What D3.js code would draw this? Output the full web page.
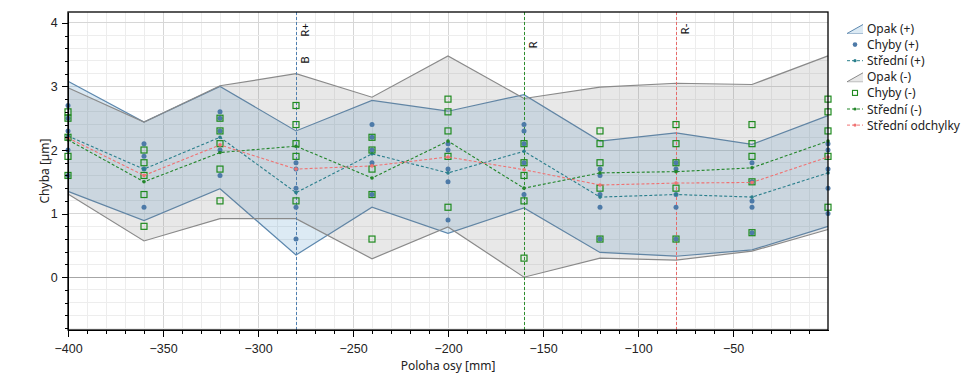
<!DOCTYPE html>
<meta charset="utf-8">
<style>

body { margin: 0; background: #fff; }

svg { font-family: "Segoe UI", "Noto Sans", "DejaVu Sans", sans-serif; }

.axis path,
.axis line {
  fill: none;
  stroke: #000;
  shape-rendering: crispEdges;
}

.axis text { font-size: 12.5px; fill: #222; }

.grid line { shape-rendering: crispEdges; }

</style>
<body>

<script src="https://cdn.jsdelivr.net/npm/d3@7"></script>

<script>

// poloha osy [mm]
var positions = [-400, -360, -320, -280, -240, -200, -160, -120, -80, -40, 0];

// opakovatelnost (+) / (-) : horni a dolni mez
var opakPlusHi  = [3.08, 2.44, 3.00, 2.30, 2.78, 2.61, 2.87, 2.14, 2.27, 2.09, 2.54];
var opakPlusLo  = [1.35, 0.89, 1.39, 0.35, 1.10, 0.69, 1.09, 0.39, 0.33, 0.43, 0.80];
var opakMinusHi = [2.98, 2.44, 3.01, 3.20, 2.83, 3.48, 2.81, 2.99, 3.05, 3.03, 3.48];
var opakMinusLo = [1.31, 0.57, 0.92, 0.92, 0.29, 0.79, 0.00, 0.30, 0.27, 0.41, 0.75];

// namerene chyby, jedno pole na kazdou polohu
var chybyPlus = [
  [2.7, 2.5, 2.3, 2.2, 2.0, 1.6],
  [2.1, 1.9, 1.7, 1.1],
  [2.6, 2.5, 2.3, 2.0, 1.6],
  [1.8, 1.7, 1.4, 1.1, 0.6],
  [2.4, 2.2, 2.0, 1.8, 1.3],
  [2.1, 2.0, 1.7, 1.5, 0.9],
  [2.4, 2.3, 2.1, 1.8, 1.3],
  [1.7, 1.6, 1.3, 1.1, 0.6],
  [1.8, 1.7, 1.3, 1.1, 0.6],
  [1.8, 1.5, 1.2, 1.1, 0.7],
  [2.1, 2.0, 1.7, 1.4, 1.0]
];
var chybyMinus = [
  [2.6, 2.5, 2.2, 1.9, 1.6],
  [2.0, 1.8, 1.6, 1.3, 0.8],
  [2.5, 2.3, 2.1, 1.7, 1.2],
  [2.7, 2.4, 2.1, 1.9, 1.2],
  [2.2, 2.0, 1.7, 1.3, 0.6],
  [2.8, 2.6, 2.3, 1.9, 1.1],
  [2.1, 1.8, 1.6, 1.2, 0.3],
  [2.3, 2.1, 1.8, 1.4, 0.6],
  [2.4, 2.1, 1.8, 1.4, 0.6],
  [2.4, 2.1, 1.9, 1.5, 0.7],
  [2.8, 2.6, 2.3, 1.9, 1.1]
];

var stredniPlus  = [2.22, 1.70, 2.20, 1.33, 1.94, 1.64, 1.98, 1.26, 1.30, 1.26, 1.64];
var stredniMinus = [2.16, 1.50, 1.96, 2.06, 1.56, 2.14, 1.40, 1.64, 1.66, 1.72, 2.14];
var stredniOdch  = [2.19, 1.60, 2.08, 1.70, 1.75, 1.89, 1.69, 1.45, 1.48, 1.49, 1.89];

var markerPos    = [-280, -280, -160, -80];
var markerLabels = ["R+", "B", "R", "R-"];

var xTickValues = [-400, -350, -300, -250, -200, -150, -100, -50];
var yTickValues = [0, 1, 2, 3, 4];

var legendLabels = ["Opak (+)", "Chyby (+)", "Střední (+)", "Opak (-)", "Chyby (-)", "Střední (-)", "Střední odchylky"];

// styles
var blueLine = "#5d88ae", blueFill = "rgba(80,150,200,0.2)";
var grayLine = "#8a8a8a", grayFill = "rgba(120,120,120,0.17)";
var dotColor = "#4d7aa8", sqColor = "#1f8a1f";
var tealColor = "#2b7f8c", greenColor = "#23862a", redColor = "#f07272";
var markerColors = ["#4f7fb0", "#4f7fb0", "#2d8f2d", "#e86a6a"];
var labelY = [30, 60, 45, 29];

var width = 979, height = 385;
var margin = {top: 12, right: 151, bottom: 55, left: 68};

var x = d3.scaleLinear().domain([-400, 0]).range([margin.left, width - margin.right]);
var y = d3.scaleLinear().domain([-0.83, 4.17]).range([height - margin.bottom, margin.top]);

var svg = d3.select("body").append("svg")
  .attr("width", width)
  .attr("height", height);

// grid
var grid = svg.append("g").attr("class", "grid");
grid.selectAll(".xminor")
  .data(d3.range(-390, 0, 10))
  .enter().append("line")
    .attr("x1", function(d) { return x(d); }).attr("x2", function(d) { return x(d); })
    .attr("y1", y.range()[0]).attr("y2", y.range()[1])
    .attr("stroke", function(d) { return d % 50 === 0 ? "#d6d6d6" : "#ededed"; });
grid.selectAll(".yminor")
  .data(d3.range(-0.8, 4.1, 0.2))
  .enter().append("line")
    .attr("x1", x.range()[0]).attr("x2", x.range()[1])
    .attr("y1", function(d) { return y(d); }).attr("y2", function(d) { return y(d); })
    .attr("stroke", function(d) { return Math.abs(d - Math.round(d)) < 0.01 ? "#d6d6d6" : "#ededed"; });

svg.append("line")
  .attr("x1", x.range()[0]).attr("x2", x.range()[1])
  .attr("y1", y(0)).attr("y2", y(0))
  .attr("stroke", "#a6a6a6")
  .style("shape-rendering", "crispEdges");

// bands
function band(hi, lo, fill, stroke) {
  var area = d3.area()
    .x(function(d, i) { return x(positions[i]); })
    .y0(function(d, i) { return y(lo[i]); })
    .y1(function(d) { return y(d); });
  var line = d3.line()
    .x(function(d, i) { return x(positions[i]); })
    .y(function(d) { return y(d); });
  var g = svg.append("g");
  g.append("path").datum(hi).attr("d", area).attr("fill", fill);
  g.append("path").datum(hi).attr("d", line).attr("fill", "none").attr("stroke", stroke).attr("stroke-width", 1.2);
  g.append("path").datum(lo).attr("d", line).attr("fill", "none").attr("stroke", stroke).attr("stroke-width", 1.2);
}
band(opakPlusHi, opakPlusLo, blueFill, blueLine);
band(opakMinusHi, opakMinusLo, grayFill, grayLine);

// vertical markers
markerPos.forEach(function(p, i) {
  svg.append("line")
    .attr("x1", x(p)).attr("x2", x(p))
    .attr("y1", y.range()[1]).attr("y2", y.range()[0])
    .attr("stroke", markerColors[i])
    .attr("stroke-dasharray", "3,2")
    .style("shape-rendering", "crispEdges");
  svg.append("text")
    .attr("transform", "translate(" + (x(p) + 8) + "," + labelY[i] + ") rotate(-90)")
    .attr("text-anchor", "middle")
    .attr("dominant-baseline", "central")
    .style("font-size", "11.5px")
    .attr("fill", "#111")
    .text(markerLabels[i]);
});

// measured points
var plusPts = [], minusPts = [];
positions.forEach(function(p, i) {
  chybyPlus[i].forEach(function(v) { plusPts.push([p, v]); });
  chybyMinus[i].forEach(function(v) { minusPts.push([p, v]); });
});

svg.append("g").selectAll("circle")
  .data(plusPts)
  .enter().append("circle")
    .attr("cx", function(d) { return x(d[0]); })
    .attr("cy", function(d) { return y(d[1]); })
    .attr("r", 2.5)
    .attr("fill", dotColor);

function meanLine(vals, color) {
  var line = d3.line()
    .x(function(d, i) { return x(positions[i]); })
    .y(function(d) { return y(d); });
  var g = svg.append("g");
  g.append("path").datum(vals).attr("d", line)
    .attr("fill", "none").attr("stroke", color).attr("stroke-width", 1.1)
    .attr("stroke-dasharray", "3,2");
  g.selectAll("circle").data(vals).enter().append("circle")
    .attr("cx", function(d, i) { return x(positions[i]); })
    .attr("cy", function(d) { return y(d); })
    .attr("r", 1.8)
    .attr("fill", color);
}
meanLine(stredniPlus, tealColor);

svg.append("g").selectAll("rect")
  .data(minusPts)
  .enter().append("rect")
    .attr("x", function(d) { return x(d[0]) - 3; })
    .attr("y", function(d) { return y(d[1]) - 3; })
    .attr("width", 6).attr("height", 6)
    .attr("fill", "none")
    .attr("stroke", sqColor)
    .attr("stroke-width", 1.2);

meanLine(stredniMinus, greenColor);
meanLine(stredniOdch, redColor);

// axes
var xAxis = d3.axisBottom(x).tickValues(xTickValues).tickSize(7).tickSizeOuter(0);
var yAxis = d3.axisLeft(y).tickValues(yTickValues).tickSize(6).tickSizeOuter(0).tickFormat(d3.format("d"));

svg.append("g")
  .attr("class", "x axis")
  .attr("transform", "translate(0," + y.range()[0] + ")")
  .call(xAxis)
  .call(function(g) { g.selectAll("text").attr("dy", "1.05em"); });

svg.append("g")
  .attr("class", "x axis")
  .attr("transform", "translate(0," + y.range()[0] + ")")
  .call(d3.axisBottom(x).tickValues(d3.range(-390, 0, 10)).tickSize(4).tickFormat(""))
  .call(function(g) { g.select(".domain").remove(); });

svg.append("g")
  .attr("class", "y axis")
  .attr("transform", "translate(" + x.range()[0] + ",0)")
  .call(yAxis)
  .call(function(g) { g.selectAll("text").attr("dx", "-0.1em"); });

svg.append("g")
  .attr("class", "y axis")
  .attr("transform", "translate(" + x.range()[0] + ",0)")
  .call(d3.axisLeft(y).tickValues(d3.range(-0.8, 4.1, 0.2)).tickSize(3).tickFormat(""))
  .call(function(g) { g.select(".domain").remove(); });

// frame
svg.append("rect")
  .attr("x", x.range()[0]).attr("y", y.range()[1])
  .attr("width", x.range()[1] - x.range()[0])
  .attr("height", y.range()[0] - y.range()[1])
  .attr("fill", "none").attr("stroke", "#000").attr("stroke-width", 1.3);

// axis titles
svg.append("text")
  .attr("x", (x.range()[0] + x.range()[1]) / 2)
  .attr("y", 370)
  .attr("text-anchor", "middle")
  .style("font-size", "12px")
  .attr("fill", "#222")
  .text("Poloha osy [mm]");

svg.append("text")
  .attr("transform", "translate(44," + (y.range()[0] + y.range()[1]) / 2 + ") rotate(-90)")
  .attr("text-anchor", "middle")
  .attr("dominant-baseline", "central")
  .style("font-size", "12px")
  .attr("fill", "#222")
  .text("Chyba [µm]");

// legend
var legend = svg.append("g").attr("transform", "translate(847,0)");
legendLabels.forEach(function(lab, i) {
  var ly = 28.5 + i * 16.1;
  var g = legend.append("g").attr("transform", "translate(0," + ly + ")");
  if (i === 0 || i === 3) {
    var fill = i === 0 ? blueFill : grayFill, stroke = i === 0 ? blueLine : grayLine;
    g.append("path").attr("d", "M0,5L16,-4L16,5Z").attr("fill", fill);
    g.append("path").attr("d", "M0,5L16,-4").attr("fill", "none").attr("stroke", stroke);
    g.append("path").attr("d", "M0,5L16,5").attr("fill", "none").attr("stroke", stroke).attr("stroke-opacity", 0.5);
  } else if (i === 1) {
    g.append("circle").attr("cx", 8).attr("cy", 0).attr("r", 2.3).attr("fill", dotColor);
  } else if (i === 4) {
    g.append("rect").attr("x", 5.5).attr("y", -2.5).attr("width", 5).attr("height", 5)
      .attr("fill", "none").attr("stroke", sqColor).attr("stroke-width", 1.1);
  } else {
    var c = i === 2 ? tealColor : (i === 5 ? greenColor : redColor);
    g.append("line").attr("x1", 0).attr("x2", 16).attr("y1", 0).attr("y2", 0)
      .attr("stroke", c).attr("stroke-dasharray", "3,2");
    g.append("circle").attr("cx", 8).attr("cy", 0).attr("r", 1.6).attr("fill", c);
  }
  g.append("text")
    .attr("x", 20).attr("y", 0)
    .attr("dominant-baseline", "central")
    .style("font-size", "12px")
    .attr("fill", "#222")
    .text(lab);
});

</script>
</body>
